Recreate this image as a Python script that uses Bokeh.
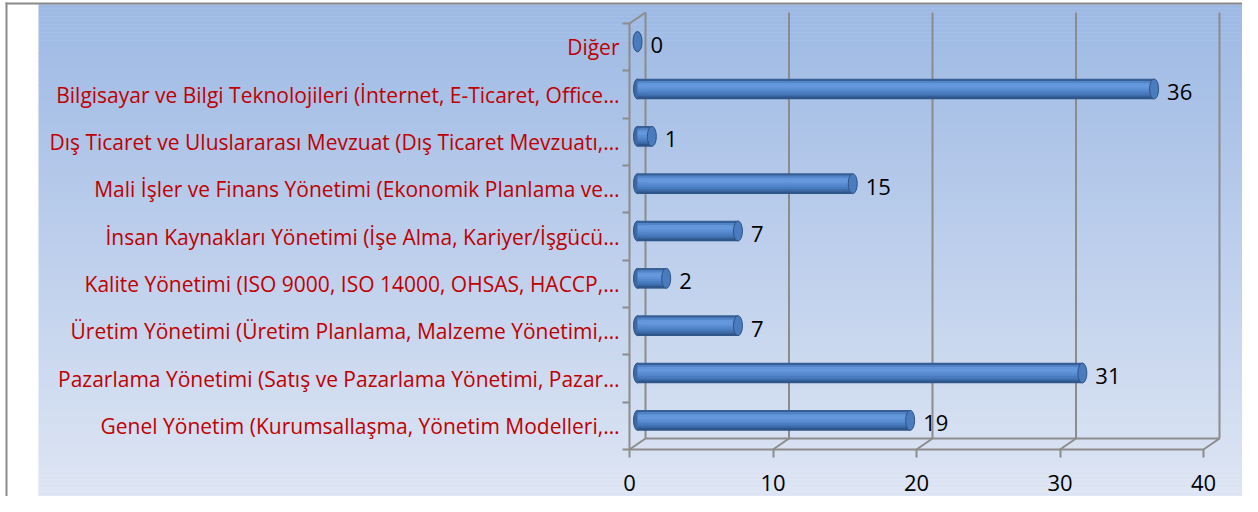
from bokeh.plotting import figure
from bokeh.models import Range1d, LinearAxis, FixedTicker, ColumnDataSource
from bokeh.embed import file_html
from bokeh.resources import INLINE
from bokeh.core.properties import value

# ---------------- data ----------------
categories = [
    "Genel Yönetim (Kurumsallaşma, Yönetim Modelleri,…",
    "Pazarlama Yönetimi (Satış ve Pazarlama Yönetimi, Pazar…",
    "Üretim Yönetimi (Üretim Planlama, Malzeme Yönetimi,…",
    "Kalite Yönetimi (ISO 9000, ISO 14000, OHSAS, HACCP,…",
    "İnsan Kaynakları Yönetimi (İşe Alma, Kariyer/İşgücü…",
    "Mali İşler ve Finans Yönetimi (Ekonomik Planlama ve…",
    "Dış Ticaret ve Uluslararası Mevzuat (Dış Ticaret Mevzuatı,…",
    "Bilgisayar ve Bilgi Teknolojileri (İnternet, E-Ticaret, Office…",
    "Diğer",
]
counts = [19, 31, 7, 2, 7, 15, 1, 36, 0]
x_ticks = [0, 10, 20, 30, 40]

# ---------------- geometry (canvas px -> data) ----------------
W, H = 1242, 496
X0, SX = 629.0, 14.35      # px of value 0, px per unit
Y0, SY = 449.0, 47.333     # px of -0.5, px per category
def px2x(px):
    return (px - X0) / SX
def py2y(py):
    return -0.5 + (Y0 - py) / SY

DXD = 16 / SX   # depth offset in data units
DYD = 11 / SY
n = len(categories)

p = figure(width=W, height=H, min_border=0,
           x_range=Range1d(px2x(0), px2x(W)),
           y_range=Range1d(py2y(H), py2y(0)),
           x_axis_type=None, y_axis_type=None,
           toolbar_location=None, output_backend="svg",
           outline_line_color=None,
           background_fill_color="white", border_fill_color="white")

# ---------------- gradient panel ----------------
top_c = (157, 185, 228)
bot_c = (223, 230, 244)
strip_top, strip_bot, strip_col = [], [], []
N = 126
y_start, y_end = 4.0, 507.0
h = (y_end - y_start) / N
for k in range(N):
    t = k / (N - 1)
    c = tuple(int(round(top_c[j] + (bot_c[j] - top_c[j]) * t)) for j in range(3))
    strip_top.append(py2y(y_start + k * h - 0.3))
    strip_bot.append(py2y(y_start + (k + 1) * h + 0.3))
    strip_col.append("#%02x%02x%02x" % c)
p.quad(left=px2x(38), right=px2x(W + 4), top=strip_top, bottom=strip_bot,
       fill_color=strip_col, line_color=None)

# outer frame lines
p.quad(left=px2x(5), right=px2x(7), top=py2y(2), bottom=py2y(H + 4),
       fill_color="#8a8a8a", line_color=None)
p.quad(left=px2x(5), right=px2x(W + 4), top=py2y(2), bottom=py2y(4),
       fill_color="#8a8a8a", line_color=None)

# ---------------- 3D walls ----------------
GRID = "#8c8c8c"
lo, hi = -0.5, n - 0.5
p.segment(x0=[t + DXD for t in x_ticks], y0=lo + DYD,
          x1=[t + DXD for t in x_ticks], y1=hi + DYD,
          line_color=GRID, line_width=2)
p.segment(x0=x_ticks, y0=lo, x1=[t + DXD for t in x_ticks], y1=lo + DYD,
          line_color=GRID, line_width=2)
p.segment(x0=[x_ticks[0] + DXD], y0=[lo + DYD], x1=[x_ticks[-1] + DXD], y1=[lo + DYD],
          line_color=GRID, line_width=2)
p.segment(x0=[0], y0=[hi], x1=[DXD], y1=[hi + DYD], line_color=GRID, line_width=2)

# ---------------- cylinder bars ----------------
bx0 = 0.5 * DXD
by = [i + 0.5 * DYD for i in range(n)]
bar_ends = [v + bx0 for v in counts]
BAR_PX = 20.0
shade = ["#365f96", "#5083c8", "#6297dc", "#6598dc", "#5d8fd5",
         "#5386cb", "#487bbf", "#3d6dac", "#2f568a"]
ns = len(shade)
# left cap
p.ellipse(x=[bx0] * n, y=by, width=8, height=BAR_PX, width_units="screen",
          height_units="screen", fill_color="#3d68a2", line_color="#315484", line_width=1)
for k, col in enumerate(shade):
    off = (-BAR_PX / 2 + (k + 0.5) * BAR_PX / ns) / SY
    p.hbar(y=[b - off for b in by], left=bx0, right=bar_ends,
           height=(BAR_PX / ns + 0.6) / SY, fill_color=col, line_color=None)
# right cap
p.ellipse(x=bar_ends, y=by, width=9, height=BAR_PX, width_units="screen",
          height_units="screen", fill_color="#4a7bbf", line_color="#315484", line_width=1)

# value labels
src = ColumnDataSource(dict(x=bar_ends, y=by, t=[str(v) for v in counts]))
p.text(x="x", y="y", text="t", source=src, x_offset=13, y_offset=3,
       text_align="left", text_baseline="middle",
       text_font=value("Open Sans"), text_font_size="22px", text_color="black")

# ---------------- axes ----------------
xaxis = LinearAxis(fixed_location=lo, bounds=(x_ticks[0], x_ticks[-1]),
                   ticker=FixedTicker(ticks=x_ticks, minor_ticks=[]))
xaxis.axis_line_color = GRID
xaxis.axis_line_width = 2
xaxis.major_tick_line_color = GRID
xaxis.major_tick_line_width = 2
xaxis.major_tick_out = 8
xaxis.major_tick_in = 0
xaxis.minor_tick_line_color = None
xaxis.major_label_standoff = 17
xaxis.major_label_text_font = "Open Sans"
xaxis.major_label_text_font_size = "22px"
xaxis.major_label_text_color = "black"
p.add_layout(xaxis, "below")

yaxis = LinearAxis(fixed_location=0, bounds=(lo, hi),
                   ticker=FixedTicker(ticks=list(range(n)),
                                      minor_ticks=[i - 0.5 for i in range(n + 1)]))
yaxis.major_label_overrides = {i: categories[i] for i in range(n)}
yaxis.axis_line_color = GRID
yaxis.axis_line_width = 2
yaxis.major_tick_line_color = None
yaxis.major_tick_out = 0
yaxis.major_tick_in = 0
yaxis.minor_tick_line_color = GRID
yaxis.minor_tick_line_width = 2
yaxis.minor_tick_out = 7
yaxis.minor_tick_in = 0
yaxis.major_label_standoff = 3
yaxis.major_label_text_font = "Open Sans"
yaxis.major_label_text_font_size = "21px"
yaxis.major_label_text_color = "#c00000"
p.add_layout(yaxis, "left")

open("out.html", "w").write(file_html(p, INLINE))
